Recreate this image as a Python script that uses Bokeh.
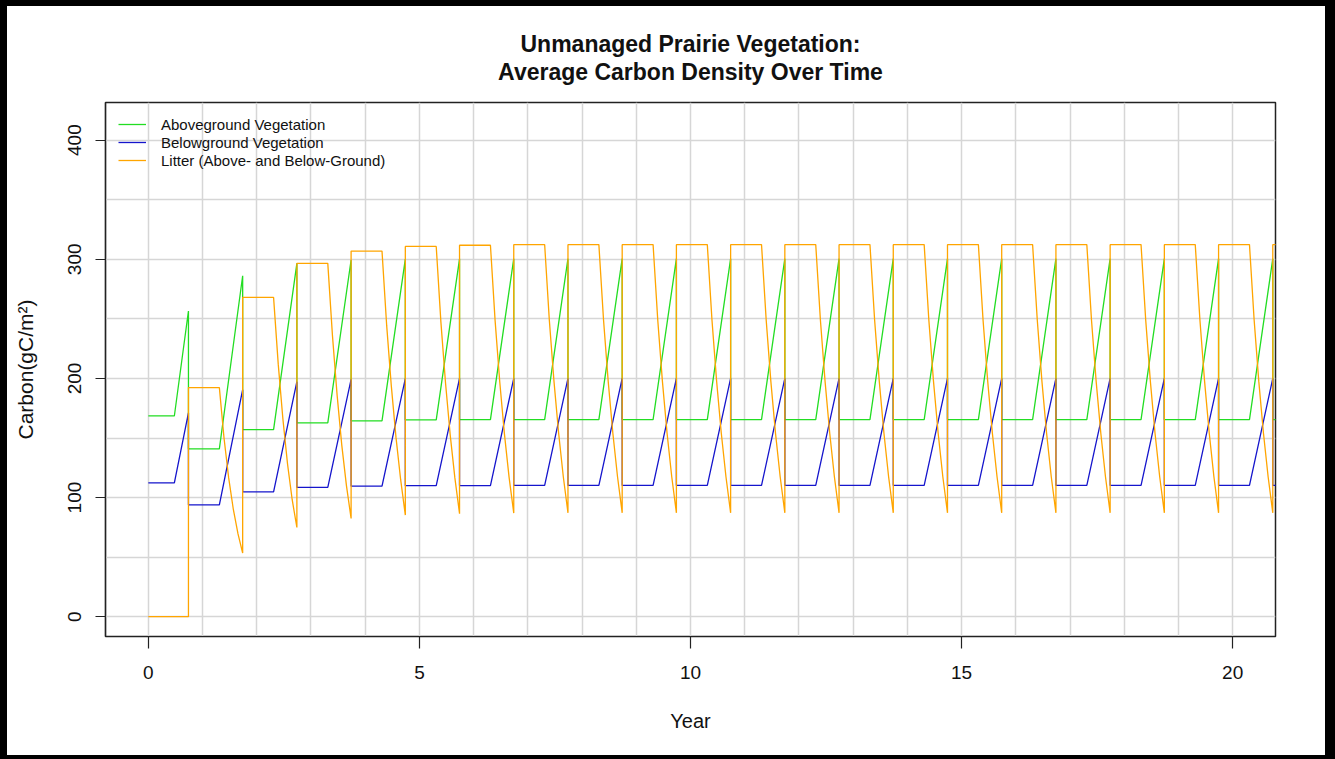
from bokeh.plotting import figure
from bokeh.models import Range1d, FixedTicker, Legend, LegendItem
from bokeh.core.properties import value
from bokeh.layouts import column
from bokeh.embed import file_html
from bokeh.resources import INLINE

# ---- data -----------------------------------------------------------------
# sample times inside each growing season (fraction of the year)
season_frac = [0.31, 0.396, 0.482, 0.568, 0.654, 0.74]
first_growth_start = 0.48          # growth begins later in the first year
end_year = 21.0

# aboveground vegetation: value at start of each growing season, and at harvest
green_start = [168.5, 140.9, 157.0, 162.7, 164.4, 165.2, 165.4, 165.5, 165.5, 165.5,
               165.5, 165.5, 165.5, 165.5, 165.5, 165.5, 165.5, 165.5, 165.5, 165.5,
               165.5, 165.5]
green_peak = [256.6, 286.2, 296.6, 299.4, 300.2, 300.4, 300.5, 300.5, 300.5, 300.5,
              300.5, 300.5, 300.5, 300.5, 300.5, 300.5, 300.5, 300.5, 300.5, 300.5,
              300.5]

# belowground vegetation
blue_start = [112.4, 93.9, 104.8, 108.5, 109.6, 110.0, 110.1, 110.2, 110.2, 110.2,
              110.2, 110.2, 110.2, 110.2, 110.2, 110.2, 110.2, 110.2, 110.2, 110.2,
              110.2, 110.2]
blue_peak = [171.0, 190.6, 197.3, 199.3, 199.9, 200.0, 200.0, 200.0, 200.0, 200.0,
             200.0, 200.0, 200.0, 200.0, 200.0, 200.0, 200.0, 200.0, 200.0, 200.0,
             200.0]

# litter: values at the season sample times for years 1..20
litter_steady = [312.3, 249.0, 197.5, 154.0, 117.5, 87.2]
litter_season = [
    [192.3, 150.0, 116.5, 90.0, 69.5, 53.4],
    [268.0, 212.0, 166.0, 128.0, 98.0, 74.9],
    [296.6, 236.0, 186.0, 144.0, 110.0, 82.5],
    [306.9, 244.5, 193.5, 150.5, 115.0, 85.3],
    [310.8, 247.5, 196.0, 152.5, 116.5, 86.5],
    [311.8, 248.5, 197.0, 153.5, 117.0, 87.0],
] + [litter_steady] * 14
litter_initial = 0.0
litter_after_last = 312.3

title_lines = ["Unmanaged Prairie Vegetation:", "Average Carbon Density Over Time"]
series_labels = ["Aboveground Vegetation", "Belowground Vegetation",
                 "Litter (Above- and Below-Ground)"]
x_ticks = [0, 5, 10, 15, 20]
y_ticks = [0, 100, 200, 300, 400]


def vegetation_curve(starts, peaks):
    xs, ys = [0.0], [starts[0]]
    harvest = season_frac[-1]
    for k, peak in enumerate(peaks):
        t0 = first_growth_start if k == 0 else season_frac[0]
        xs += [k + t0, k + harvest, k + harvest]
        ys += [starts[k], peak, starts[k + 1]]
    xs.append(end_year)
    ys.append(starts[-1])
    return xs, ys


def litter_curve():
    harvest = season_frac[-1]
    xs, ys = [0.0, harvest], [litter_initial, litter_initial]
    for k, season in enumerate(litter_season, start=1):
        xs.append(k - 1 + harvest)
        ys.append(season[0])
        xs += [k + f for f in season_frac]
        ys += season
    xs += [len(litter_season) + harvest, end_year]
    ys += [litter_after_last, litter_after_last]
    return xs, ys


FONT = "Liberation Sans"
WIDTH = 1318
TITLE_H = 94
MAIN_H = 655
x_range = Range1d(-0.79, 20.79)

# ---- title strip: shares the year axis, y in pixels measured upward ---------
head = figure(width=WIDTH, height=TITLE_H, output_backend="svg",
              toolbar_location=None, x_range=x_range,
              y_range=Range1d(0, TITLE_H), x_axis_type=None, y_axis_type=None,
              min_border=0, min_border_left=98, min_border_right=50,
              background_fill_color="white", border_fill_color="white")
head.grid.visible = False
head.outline_line_color = None
head.text(x=[10.0, 10.0], y=[57, 29], text=title_lines,
          text_align="center", text_baseline="middle",
          text_font=value(FONT), text_font_size="23px",
          text_font_style="bold", text_color="#111111")

# ---- main plot ------------------------------------------------------------
p = figure(width=WIDTH, height=MAIN_H, output_backend="svg", toolbar_location=None,
           x_range=x_range, y_range=Range1d(-16.6, 431.6),
           min_border_left=98, min_border_right=50, min_border_top=2,
           min_border_bottom=119, background_fill_color="white",
           border_fill_color="white")

p.outline_line_color = "#222222"
p.outline_line_width = 1.5

# grid: every year, every 50 gC/m2
p.xgrid.ticker = FixedTicker(ticks=list(range(0, 21)))
p.ygrid.ticker = FixedTicker(ticks=list(range(0, 401, 50)))
for g in (p.xgrid, p.ygrid):
    g.grid_line_color = "#d6d6d6"
    g.grid_line_width = 1.5

# axes
p.xaxis.ticker = FixedTicker(ticks=x_ticks)
p.yaxis.ticker = FixedTicker(ticks=y_ticks)
p.xaxis.axis_label = "Year"
p.yaxis.axis_label = "Carbon(gC/m\u00b2)"
p.yaxis.major_label_orientation = "vertical"
for ax in (p.xaxis, p.yaxis):
    ax.minor_tick_line_color = None
    ax.major_tick_in = 0
    ax.axis_line_color = "#222222"
    ax.axis_line_width = 1.2
    ax.major_tick_line_color = "#222222"
    ax.major_tick_line_width = 1.2
    ax.major_label_text_font = FONT
    ax.major_label_text_font_size = "19px"
    ax.major_label_text_color = "#111111"
    ax.axis_label_text_font = FONT
    ax.axis_label_text_font_style = "normal"
    ax.axis_label_text_color = "#111111"
p.xaxis.axis_label_text_font_size = "20px"
p.yaxis.axis_label_text_font_size = "21px"
p.xaxis.major_tick_out = 12
p.yaxis.major_tick_out = 10
p.xaxis.major_label_standoff = 17
p.yaxis.major_label_standoff = 14
p.xaxis.axis_label_standoff = 28
p.yaxis.axis_label_standoff = 29

gx, gy = vegetation_curve(green_start, green_peak)
bx, by = vegetation_curve(blue_start, blue_peak)
lx, ly = litter_curve()

r_green = p.line(gx, gy, line_color="#22dd22", line_width=1.3)
r_blue = p.line(bx, by, line_color="#1515cc", line_width=1.3)
r_litter = p.line(lx, ly, line_color="#ffa500", line_width=1.3)

legend = Legend(
    items=[LegendItem(label=series_labels[0], renderers=[r_green]),
           LegendItem(label=series_labels[1], renderers=[r_blue]),
           LegendItem(label=series_labels[2], renderers=[r_litter])],
    location="top_left", margin=0, padding=13, spacing=0,
    glyph_width=28, glyph_height=18, label_height=18, label_standoff=15,
    label_text_font=FONT, label_text_font_size="15px", label_text_color="#111111",
    background_fill_alpha=0, border_line_alpha=0)
p.add_layout(legend)

# white sheet holding both canvases, framed by a black border
sheet = column(head, p, spacing=0, styles={"background-color": "white"})
page = column(sheet, styles={"background-color": "black",
                             "padding": "6px 10px 4px 7px"})

open("out.html", "w").write(file_html(page, INLINE))
